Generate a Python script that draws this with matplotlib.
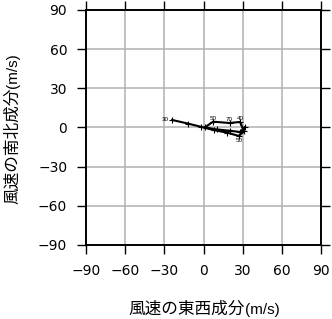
import numpy as np
import matplotlib
matplotlib.use('Agg')
import matplotlib.pyplot as plt

# hodograph points (u, v) in m/s
u = [-24, -12, -2, 8, 18, 27, 31, 28, 20, 7.3, 1, 10, 20, 28, 31.8]
v = [5.7, 3, 0.5, -2, -4, -6.5, -3, 4.2, 3.4, 4.4, 0, -1.5, -2.5, -3.5, 0.4]
# labels at a few of the points
lab_idx = [0, 5, 7, 8, 9]
lab_txt = ['30', '50', '40', '70', '50']

ticks = [-90, -60, -30, 0, 30, 60, 90]
tick_labels = ['\u221290', '\u221260', '\u221230', '0', '30', '60', '90']

fig = plt.figure(figsize=(3.32, 3.19), dpi=100)
ax = fig.add_axes([0.259, 0.232, 0.708, 0.737])

ax.set_xlim(-90, 90)
ax.set_ylim(-90, 90)
ax.set_xticks(ticks)
ax.set_yticks(ticks)
ax.set_xticklabels(tick_labels, family='DejaVu Sans', fontsize=10)
ax.set_yticklabels(tick_labels, family='DejaVu Sans', fontsize=10)
ax.grid(True, color='#b0b0b0', lw=1.1)
ax.set_axisbelow(True)
ax.tick_params(direction='out', length=6.5, width=1, pad=7,
               top=True, right=True, labeltop=False, labelright=False)
for s in ax.spines.values():
    s.set_linewidth(1.4)

ax.plot(u, v, color='black', lw=1.5, marker='+', ms=4, mew=0.8)
for i, t in zip(lab_idx, lab_txt):
    if i == 0:
        ax.text(u[i] - 5, v[i] + 0.5, t, fontsize=4.5, ha='center', va='center', family='Liberation Sans')
    elif i == 5:
        ax.text(u[i], v[i] - 1.5, t, fontsize=4.5, ha='center', va='top', family='Liberation Sans')
    else:
        ax.text(u[i], v[i] + 0.8, t, fontsize=4.5, ha='center', va='bottom', family='Liberation Sans')

jp = ['Noto Sans CJK JP', 'DejaVu Sans']
fig.text(0.738, 0.015, '風速の東西成分', family=jp, fontsize=12, ha='right', va='baseline')
fig.text(0.738, 0.015, '(m/s)', family='Liberation Sans', fontsize=11, ha='left', va='baseline')
fig.text(0.052, 0.724, '風速の南北成分', family=jp, fontsize=12, rotation=90, ha='right', va='baseline', rotation_mode='anchor')
fig.text(0.052, 0.724, '(m/s)', family='Liberation Sans', fontsize=11, rotation=90, ha='left', va='baseline', rotation_mode='anchor')

fig.savefig('out.png', dpi=100)
